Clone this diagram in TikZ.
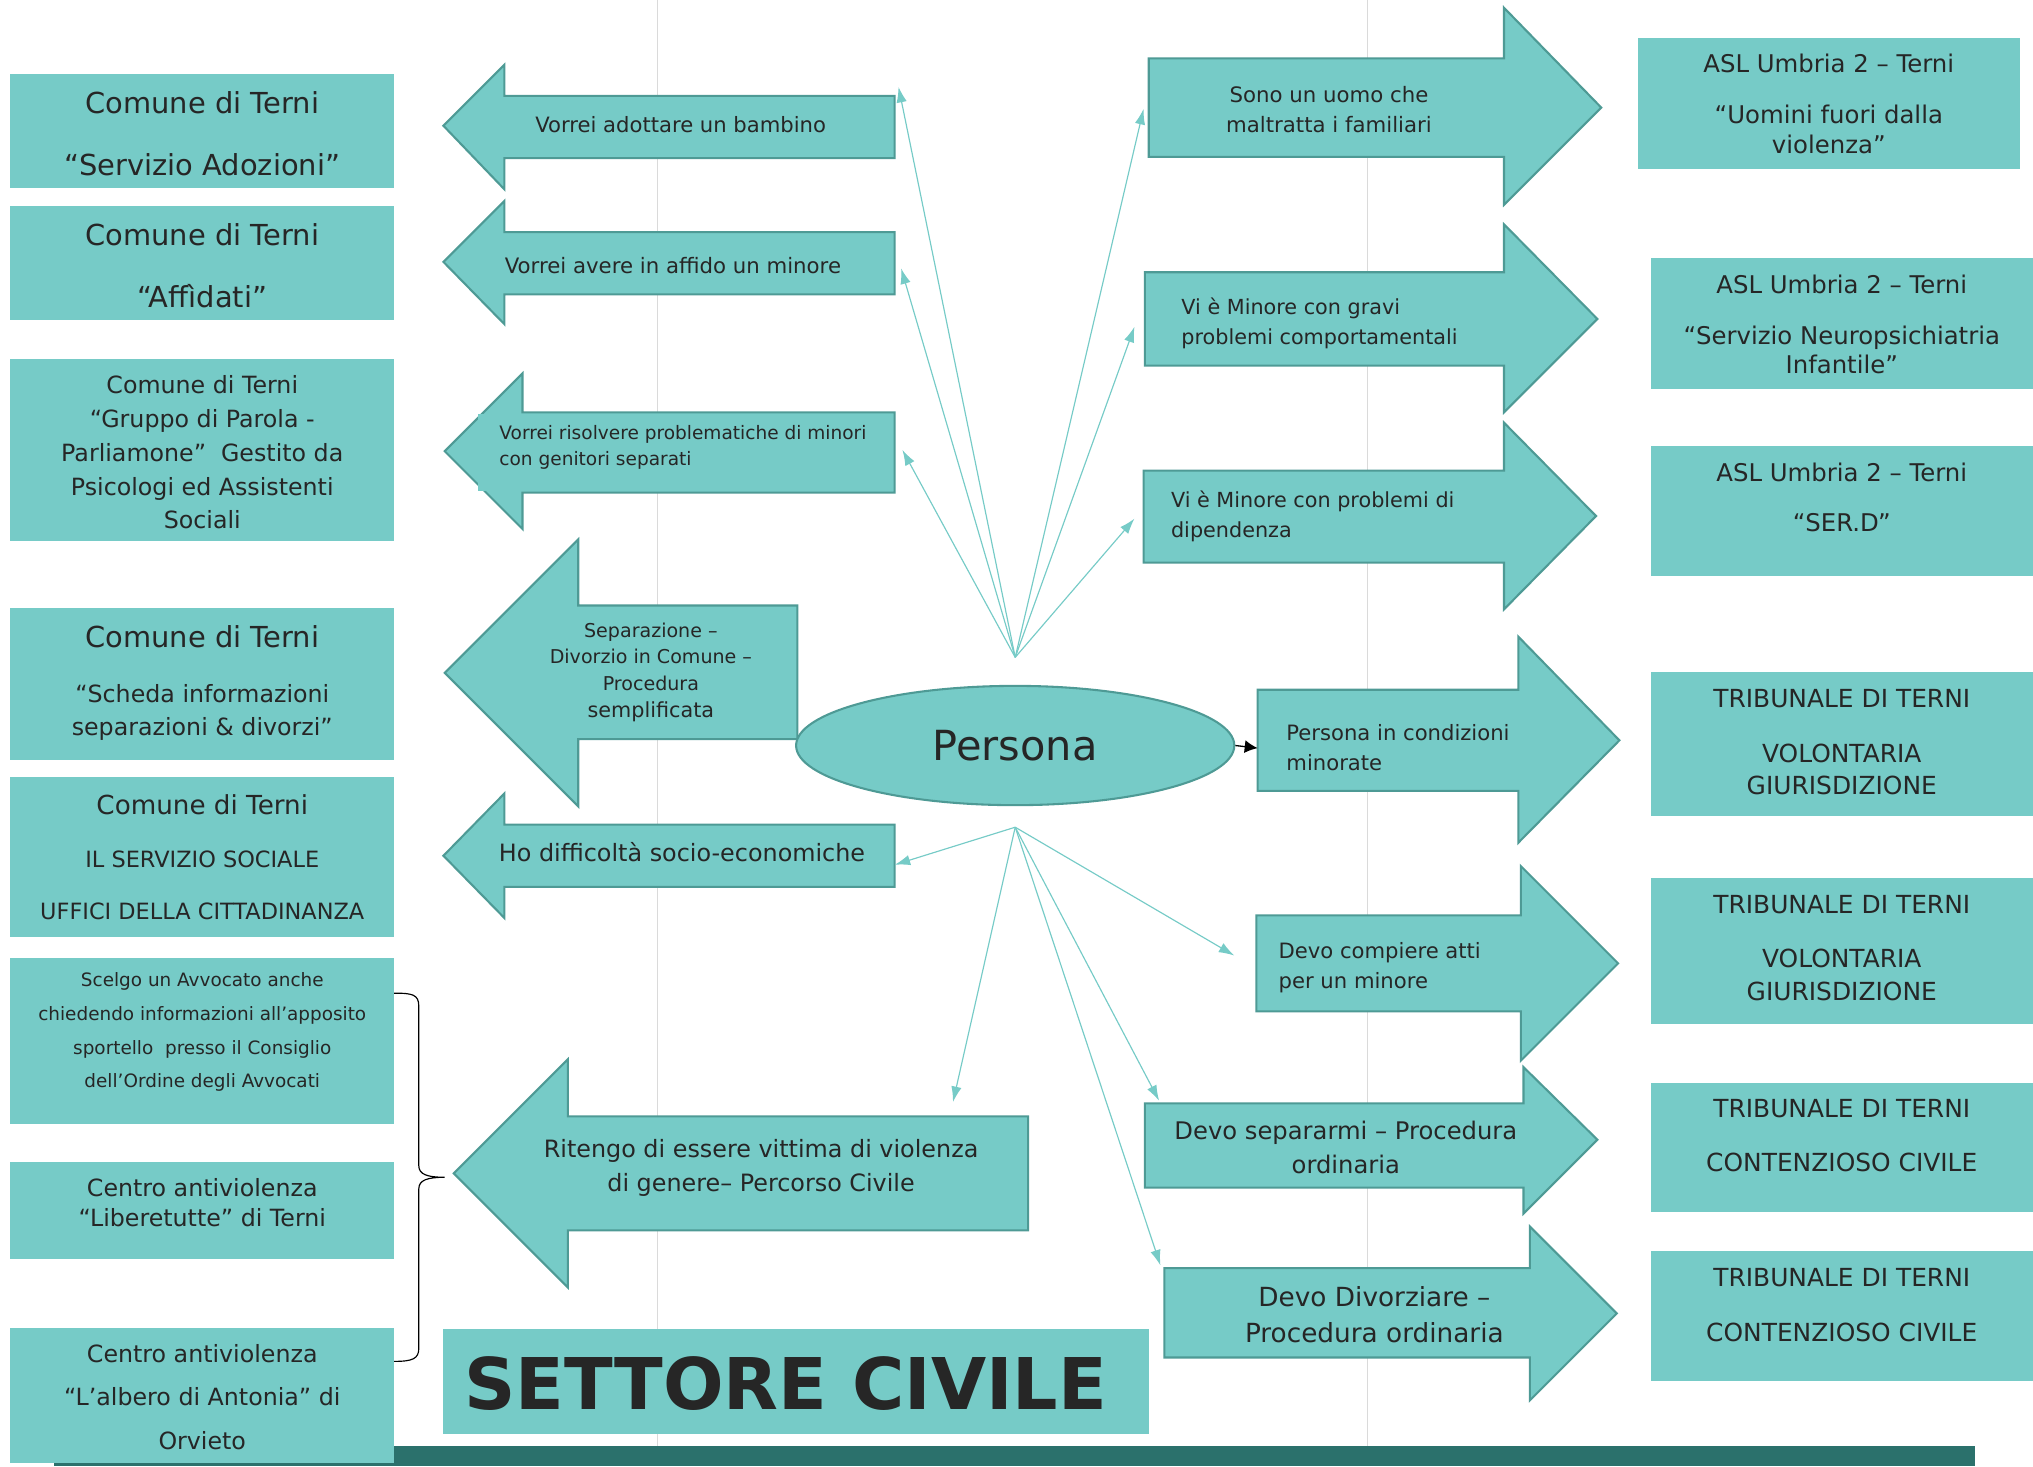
\documentclass[tikz,border=0pt]{standalone}
\usepackage{fontspec}
\setmainfont{DejaVu Sans}
\usetikzlibrary{shapes.geometric,arrows.meta}
\definecolor{boxc}{HTML}{76CBC7}
\definecolor{edgec}{HTML}{4E9A95}
\definecolor{linec}{HTML}{76CBC7}
\definecolor{barc}{HTML}{2B716C}
\definecolor{tc}{HTML}{262626}
\definecolor{gridc}{HTML}{DADADA}
\newcommand\fsz[2]{\fontsize{#1}{#2}\selectfont}
\begin{document}
\begin{tikzpicture}[x=1pt,y=-1pt,
  box/.style={rectangle, fill=boxc, draw=none, inner sep=0pt},
  txt/.style={text=tc, align=center, inner sep=0pt},
  ltxt/.style={text=tc, align=left, inner sep=0pt, anchor=west},
  ashape/.style={fill=boxc, draw=edgec, line width=1.6pt, line join=miter},
  conn/.style={draw=linec, line width=0.9pt, -{Latex[length=12pt,width=8pt]}},
  brace/.style={draw=black, line width=0.9pt}]
\useasboundingbox (0,0) rectangle (1568,1131);
% background guides
\draw[gridc, line width=0.8pt] (507,0) -- (507,1115);
\draw[gridc, line width=0.8pt] (1055,0) -- (1055,1115);
% bottom bar
\fill[barc] (42,1115) rectangle (1523,1131);

% left boxes
\node[box, minimum width=296pt, minimum height=88pt] (l1) at (156,101) {};
\node[box, minimum width=296pt, minimum height=88pt] (l2) at (156,203) {};
\node[box, minimum width=296pt, minimum height=140pt] (l3) at (156,347) {};
\node[box, minimum width=296pt, minimum height=117pt] (l4) at (156,527.5) {};
\node[box, minimum width=296pt, minimum height=124pt] (l5) at (156,661) {};
\node[box, minimum width=296pt, minimum height=128pt] (l6) at (156,803) {};
\node[box, minimum width=296pt, minimum height=75pt] (l7) at (156,933.5) {};
\node[box, minimum width=296pt, minimum height=104pt] (l8) at (156,1076) {};

\node[txt, font=\fsz{22.3}{48}] (l1t) at (156,103) {Comune di Terni\\“Servizio Adozioni”};
\node[txt, font=\fsz{22.3}{48}] (l2t) at (156,205) {Comune di Terni\\“Aff\/ìdati”};
\node[txt, font=\fsz{18.3}{26}] (l3t) at (156,349) {Comune di Terni\\“Gruppo di Parola -\\Parliamone”\ \ Gestito da\\Psicologi ed Assistenti\\Sociali};
\node[txt, font=\fsz{22.3}{26}] (l4a) at (156,491) {Comune di Terni};
\node[txt, font=\fsz{18.3}{25}] (l4b) at (156,549.5) {“Scheda informazioni\\separazioni \& divorzi”};
\node[txt, font=\fsz{20.2}{24}] (l5a) at (156,621) {Comune di Terni};
\node[txt, font=\fsz{17.3}{40}] (l5b) at (156,683) {IL SERVIZIO SOCIALE\\UFFICI DELLA CITTADINANZA};
\node[txt, font=\fsz{14.2}{26}] (l6t) at (156,796) {Scelgo un Avvocato anche\\chiedendo informazioni all’apposito\\sportello\ \ presso il Consiglio\\dell’Ordine degli Avvocati};
\node[txt, font=\fsz{18.3}{23}] (l7t) at (156,927.5) {Centro antiviolenza\\“Liberetutte” di Terni};
\node[txt, font=\fsz{18.3}{33.5}] (l8t) at (156,1077.5) {Centro antiviolenza\\“L’albero di Antonia” di\\Orvieto};

% brace
\coordinate (brtop) at (304,766);
\coordinate (brtip) at (343,908);
\coordinate (brbot) at (304,1050);
\draw[brace] (brtop) .. controls (318,766) and (323,767) .. (323,776) -- (323,899)
  .. controls (323,906) and (330,908) .. (brtip)
  .. controls (330,908) and (323,910) .. (323,917) -- (323,1040)
  .. controls (323,1048) and (318,1050) .. (brbot);

% right boxes
\node[box, minimum width=295pt, minimum height=101pt] (r1) at (1410.5,79.5) {};
\node[box, minimum width=295pt, minimum height=101pt] (r2) at (1420.5,249.5) {};
\node[box, minimum width=295pt, minimum height=100pt] (r3) at (1420.5,394) {};
\node[box, minimum width=295pt, minimum height=111pt] (r4) at (1420.5,573.5) {};
\node[box, minimum width=295pt, minimum height=113pt] (r5) at (1420.5,733.5) {};
\node[box, minimum width=295pt, minimum height=100pt] (r6) at (1420.5,885) {};
\node[box, minimum width=295pt, minimum height=100pt] (r7) at (1420.5,1015) {};

\node[txt, font=\fsz{18.8}{23}] (r1t) at (1410.5,80) {ASL Umbria 2 – Terni\\[16pt]“Uomini fuori dalla\\violenza”};
\node[txt, font=\fsz{18.8}{22}] (r2t) at (1420.5,250) {ASL Umbria 2 – Terni\\[18pt]“Servizio Neuropsichiatria\\Infantile”};
\node[txt, font=\fsz{18.8}{39}] (r3t) at (1420.5,383.5) {ASL Umbria 2 – Terni\\“SER.D”};
\node[txt, font=\fsz{19.2}{25}] (r4t) at (1420.5,572.5) {TRIBUNALE DI TERNI\\[17pt]VOLONTARIA\\GIURISDIZIONE};
\node[txt, font=\fsz{19.2}{25}] (r5t) at (1420.5,731) {TRIBUNALE DI TERNI\\[17pt]VOLONTARIA\\GIURISDIZIONE};
\node[txt, font=\fsz{19.2}{42}] (r6t) at (1420.5,876) {TRIBUNALE DI TERNI\\CONTENZIOSO CIVILE};
\node[txt, font=\fsz{19.2}{43}] (r7t) at (1420.5,1006.5) {TRIBUNALE DI TERNI\\CONTENZIOSO CIVILE};

% left-pointing arrows
\filldraw[ashape] (690,74) -- (389,74) -- (389,50) -- (342,97) -- (389,146) -- (389,122) -- (690,122) -- cycle;
\node[txt, font=\fsz{16.3}{20}] (a1t) at (525,96) {Vorrei adottare un bambino};
\filldraw[ashape] (690,179) -- (389,179) -- (389,155) -- (342,202) -- (389,250) -- (389,227) -- (690,227) -- cycle;
\node[txt, font=\fsz{16.4}{20}] (a2t) at (519,205) {Vorrei avere in affido un minore};
\filldraw[ashape] (690,318) -- (403,318) -- (403,288) -- (343,348) -- (403,408) -- (403,380) -- (690,380) -- cycle;
\fill[boxc] (369,319.5) rectangle (404,378.5);
\node[ltxt, font=\fsz{14.3}{20}] (a3t) at (385,345) {Vorrei risolvere problematiche di minori\\con genitori separati};
\filldraw[ashape] (615,467) -- (446,467) -- (446,416) -- (343,519) -- (446,622) -- (446,570) -- (615,570) -- cycle;
\node[txt, font=\fsz{14.7}{20.5}] (a4t) at (502,506.5) {Separazione –\\Divorzio in Comune –\\Procedura};
\node[txt, font=\fsz{16}{20}] (a4u) at (502,549) {semplificata};
\filldraw[ashape] (690,636) -- (389,636) -- (389,612) -- (342,660) -- (389,708) -- (389,684) -- (690,684) -- cycle;
\node[txt, font=\fsz{18.4}{22}] (a5t) at (526,657) {Ho difficoltà socio-economiche};
\filldraw[ashape] (793,861) -- (438,861) -- (438,817) -- (350,905) -- (438,993) -- (438,949) -- (793,949) -- cycle;
\node[txt, font=\fsz{18.4}{26}] (a6t) at (587,901) {Ritengo di essere vittima di violenza\\di genere– Percorso Civile};

% right-pointing arrows
\filldraw[ashape] (886,45) -- (1160,45) -- (1160,6) -- (1235,83) -- (1160,158) -- (1160,121) -- (886,121) -- cycle;
\node[txt, font=\fsz{16.4}{23}] (b1t) at (1025,84.5) {Sono un uomo che\\maltratta i familiari};
\filldraw[ashape] (883,210) -- (1160,210) -- (1160,173) -- (1232,246) -- (1160,318) -- (1160,282) -- (883,282) -- cycle;
\node[ltxt, font=\fsz{16}{23}] (b2t) at (911,249.5) {Vi è Minore con gravi\\problemi comportamentali};
\filldraw[ashape] (882,363) -- (1160,363) -- (1160,326) -- (1231,398) -- (1160,470) -- (1160,434) -- (882,434) -- cycle;
\node[ltxt, font=\fsz{16}{23}] (b3t) at (903,398.5) {Vi è Minore con problemi di\\dipendenza};
\filldraw[ashape] (970,532) -- (1171,532) -- (1171,491) -- (1249,571) -- (1171,650) -- (1171,610) -- (970,610) -- cycle;
\node[ltxt, font=\fsz{16.3}{23}] (b4t) at (992,576.5) {Persona in condizioni\\minorate};
\filldraw[ashape] (969,706) -- (1173,706) -- (1173,668) -- (1248,743) -- (1173,818) -- (1173,780) -- (969,780) -- cycle;
\node[ltxt, font=\fsz{16.3}{23}] (b5t) at (986,746.5) {Devo compiere atti\\per un minore};
\filldraw[ashape] (883,851) -- (1175,851) -- (1175,823) -- (1232,879) -- (1175,936) -- (1175,916) -- (883,916) -- cycle;
\node[txt, font=\fsz{18.7}{26}] (b6t) at (1038,885) {Devo separarmi – Procedura\\ordinaria};
\filldraw[ashape] (898,978) -- (1180,978) -- (1180,946) -- (1247,1013) -- (1180,1080) -- (1180,1047) -- (898,1047) -- cycle;
\node[txt, font=\fsz{20.3}{28}] (b7t) at (1060,1014) {Devo Divorziare –\\Procedura ordinaria};

% central ellipse
\node[ellipse, fill=boxc, draw=edgec, line width=1.6pt, minimum width=338pt, minimum height=92pt, inner sep=0pt, text=tc, font=\fsz{32}{38}] (pers) at (783,575) {Persona};

% connector endpoints
\coordinate (ut) at (783,507);
\coordinate (lt) at (783,638);
\coordinate (tA1) at (693,67);
\coordinate (tA2) at (695,207);
\coordinate (tA3) at (696,347);
\coordinate (tB1) at (882,84);
\coordinate (tB2) at (875,252);
\coordinate (tB3) at (875,400);
\coordinate (tA5) at (690,667);
\coordinate (tA6) at (735,850);
\coordinate (tB5) at (952,737);
\coordinate (tB6) at (894,849);
\coordinate (tB7) at (895,976);
\coordinate (tB4) at (970,577);

\draw[conn] (ut) -- (tA1);
\draw[conn] (ut) -- (tA2);
\draw[conn] (ut) -- (tA3);
\draw[conn] (ut) -- (tB1);
\draw[conn] (ut) -- (tB2);
\draw[conn] (ut) -- (tB3);
\draw[conn] (lt) -- (tA5);
\draw[conn] (lt) -- (tA6);
\draw[conn] (lt) -- (tB5);
\draw[conn] (lt) -- (tB6);
\draw[conn] (lt) -- (tB7);
\draw[black, line width=1pt, -{Latex[length=10pt,width=10pt]}] (pers.east) -- (tB4);

% title
\node[box, minimum width=544pt, minimum height=81pt] (title) at (614,1065.5) {};
\node[txt, anchor=base, font=\fsz{55}{60}\bfseries] (titlet) at (606,1087) {SETTORE CIVILE};
\end{tikzpicture}
\end{document}
